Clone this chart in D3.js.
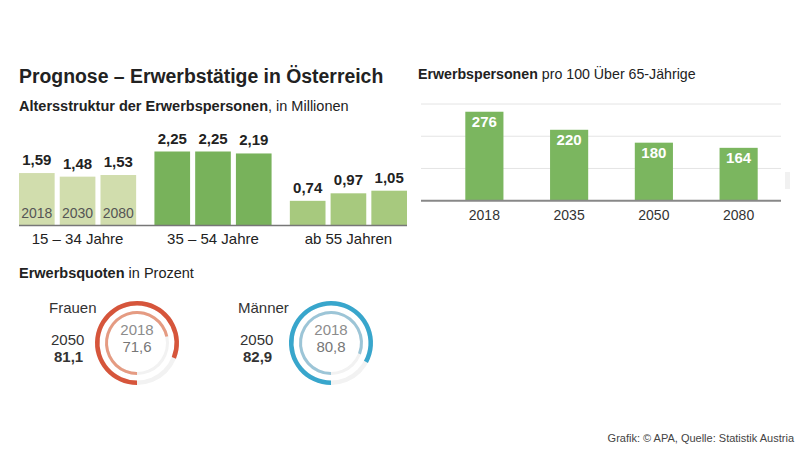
<!DOCTYPE html>
<html>
<head>
<meta charset="utf-8">
<script src="https://cdn.jsdelivr.net/npm/d3@7"></script>
<style>
  body { margin: 0; background: #fff; }
  svg { font-family: "Liberation Sans", Arial, sans-serif; }
</style>
</head>
<body>
<script>
// data
var ageGroups = ["15 – 34 Jahre", "35 – 54 Jahre", "ab 55 Jahren"];
var ageYears = ["2018", "2030", "2080"];
var ageValues = [[1.59, 1.48, 1.53], [2.25, 2.25, 2.19], [0.74, 0.97, 1.05]];

var ratioYears = ["2018", "2035", "2050", "2080"];
var ratioValues = [276, 220, 180, 164];
var ratioTicks = [100, 200, 300];

var quoteGroups = ["Frauen", "Männer"];
var quote2018 = [71.6, 80.8];
var quote2050 = [81.1, 82.9];

var de = d3.formatLocale({decimal: ",", thousands: ".", grouping: [3], currency: ["", "€"]});
var f2 = de.format(".2f"), f1 = de.format(".1f");

var svg = d3.select("body").append("svg")
    .attr("width", 800)
    .attr("height", 452);

// titles
svg.append("text").attr("x", 19).attr("y", 83)
    .attr("font-size", 19.4).attr("font-weight", "bold").attr("fill", "#222")
    .text("Prognose – Erwerbstätige in Österreich");

var sub1 = svg.append("text").attr("x", 19).attr("y", 111).attr("font-size", 14.5).attr("fill", "#222");
sub1.append("tspan").attr("font-weight", "bold").text("Altersstruktur der Erwerbspersonen");
sub1.append("tspan").text(", in Millionen");

var sub2 = svg.append("text").attr("x", 418).attr("y", 79).attr("font-size", 14.2).attr("fill", "#222");
sub2.append("tspan").attr("font-weight", "bold").text("Erwerbspersonen");
sub2.append("tspan").text(" pro 100 Über 65-Jährige");

var sub3 = svg.append("text").attr("x", 19).attr("y", 278).attr("font-size", 14.5).attr("fill", "#222");
sub3.append("tspan").attr("font-weight", "bold").text("Erwerbsquoten");
sub3.append("tspan").text(" in Prozent");

// ---- left: age structure, grouped bars
var groupColors = ["#d1ddad", "#78b25b", "#a7c97e"];

var x0 = d3.scaleBand().domain(ageGroups).range([19, 407]).paddingInner(0.135);
var x1 = d3.scaleBand().domain(ageYears).range([0, x0.bandwidth()]).paddingInner(0.125);
var yAge = d3.scaleLinear().domain([0, 2.25]).range([225, 151.5]);

var groups = svg.selectAll(".grp")
    .data(ageGroups)
    .enter().append("g")
    .attr("class", "grp")
    .attr("transform", function(d) { return "translate(" + x0(d) + ",0)"; });

groups.each(function(g, gi) {
  var sel = d3.select(this);
  var rows = ageValues[gi].map(function(v, i) { return {year: ageYears[i], value: v}; });

  sel.selectAll("rect").data(rows).enter().append("rect")
      .attr("x", function(d) { return x1(d.year); })
      .attr("width", x1.bandwidth())
      .attr("y", function(d) { return yAge(d.value); })
      .attr("height", function(d) { return yAge(0) - yAge(d.value); })
      .attr("fill", groupColors[gi]);

  sel.selectAll(".val").data(rows).enter().append("text")
      .attr("class", "val")
      .attr("x", function(d) { return x1(d.year) + x1.bandwidth() / 2; })
      .attr("y", function(d) { return yAge(d.value) - 8; })
      .attr("text-anchor", "middle")
      .attr("font-size", 15).attr("font-weight", "bold").attr("fill", "#222")
      .text(function(d) { return f2(d.value); });

  // years only in the first group
  if (gi === 0) {
    sel.selectAll(".yr").data(rows).enter().append("text")
        .attr("x", function(d) { return x1(d.year) + x1.bandwidth() / 2; })
        .attr("y", 218)
        .attr("text-anchor", "middle")
        .attr("font-size", 14).attr("fill", "#555")
        .text(function(d) { return d.year; });
  }

  sel.append("text")
      .attr("x", x0.bandwidth() / 2).attr("y", 244)
      .attr("text-anchor", "middle")
      .attr("font-size", 15).attr("fill", "#222")
      .text(g);
});

svg.append("line")
    .attr("x1", 19).attr("x2", 407)
    .attr("y1", yAge(0) + 0.5).attr("y2", yAge(0) + 0.5)
    .attr("stroke", "#777").attr("stroke-width", 1.5);

// ---- right: persons per 100 over-65
var xR = d3.scaleBand().domain(ratioYears).range([442, 781]).paddingInner(0.55).paddingOuter(0.275);
var yR = d3.scaleLinear().domain([0, 300]).range([200.7, 104]);

svg.append("g").selectAll("line").data(ratioTicks).enter().append("line")
    .attr("x1", 421).attr("x2", 781)
    .attr("y1", function(d) { return yR(d); })
    .attr("y2", function(d) { return yR(d); })
    .attr("stroke", "#e4e4e4").attr("stroke-width", 1);

var rows2 = ratioValues.map(function(v, i) { return {year: ratioYears[i], value: v}; });

svg.selectAll(".rbar").data(rows2).enter().append("rect")
    .attr("class", "rbar")
    .attr("x", function(d) { return xR(d.year); })
    .attr("width", xR.bandwidth())
    .attr("y", function(d) { return yR(d.value); })
    .attr("height", function(d) { return yR(0) - yR(d.value); })
    .attr("fill", "#7bb65f");

svg.selectAll(".rval").data(rows2).enter().append("text")
    .attr("class", "rval")
    .attr("x", function(d) { return xR(d.year) + xR.bandwidth() / 2; })
    .attr("y", function(d) { return yR(d.value) + 15; })
    .attr("text-anchor", "middle")
    .attr("font-size", 15).attr("font-weight", "bold").attr("fill", "#fff")
    .text(function(d) { return d.value; });

svg.append("line")
    .attr("x1", 421).attr("x2", 781)
    .attr("y1", yR(0)).attr("y2", yR(0))
    .attr("stroke", "#888").attr("stroke-width", 2);

svg.append("g")
    .attr("transform", "translate(0," + yR(0) + ")")
    .call(d3.axisBottom(xR).tickSize(0).tickPadding(9))
    .call(function(g) { g.select(".domain").remove(); })
    .selectAll("text")
    .attr("font-family", "Liberation Sans, Arial, sans-serif")
    .attr("font-size", 14).attr("fill", "#333");

// faint block at the right edge
svg.append("rect").attr("x", 785).attr("y", 172).attr("width", 5).attr("height", 17).attr("fill", "#f1f1f1");

// ---- rings: participation rates
var ringCx = [137, 331];
var ringCy = 343;
var ringColors = [["#d6553b", "#e59b82"], ["#38a6cc", "#9cc5d7"]];
var labelX = [49, 238];

var outerArc = d3.arc().innerRadius(37.5).outerRadius(42);
var innerArc = d3.arc().innerRadius(29).outerRadius(32);

quoteGroups.forEach(function(name, i) {
  var g = svg.append("g").attr("transform", "translate(" + ringCx[i] + "," + ringCy + ")");
  var a0 = Math.PI;

  g.append("path").attr("d", outerArc({startAngle: 0, endAngle: 2 * Math.PI})).attr("fill", "#f2f2f2");
  g.append("path").attr("d", innerArc({startAngle: 0, endAngle: 2 * Math.PI})).attr("fill", "#f2f2f2");
  g.append("path")
      .attr("d", outerArc({startAngle: a0, endAngle: a0 + quote2050[i] / 100 * 2 * Math.PI}))
      .attr("fill", ringColors[i][0]);
  g.append("path")
      .attr("d", innerArc({startAngle: a0, endAngle: a0 + quote2018[i] / 100 * 2 * Math.PI}))
      .attr("fill", ringColors[i][1]);

  g.append("text").attr("x", 0).attr("y", -8).attr("text-anchor", "middle")
      .attr("font-size", 15).attr("fill", "#8c8c8c").text("2018");
  g.append("text").attr("x", 0).attr("y", 9).attr("text-anchor", "middle")
      .attr("font-size", 15).attr("fill", "#777").text(f1(quote2018[i]));

  svg.append("text").attr("x", labelX[i]).attr("y", 313)
      .attr("font-size", 15).attr("fill", "#333").text(name);
  svg.append("text").attr("x", labelX[i] + 2).attr("y", 345)
      .attr("font-size", 15).attr("fill", "#333").text("2050");
  svg.append("text").attr("x", labelX[i] + 5).attr("y", 362)
      .attr("font-size", 15).attr("font-weight", "bold").attr("fill", "#333").text(f1(quote2050[i]));
});

svg.append("text").attr("x", 794).attr("y", 442).attr("text-anchor", "end")
    .attr("font-size", 11).attr("fill", "#444")
    .text("Grafik: © APA, Quelle: Statistik Austria");
</script>
</body>
</html>
